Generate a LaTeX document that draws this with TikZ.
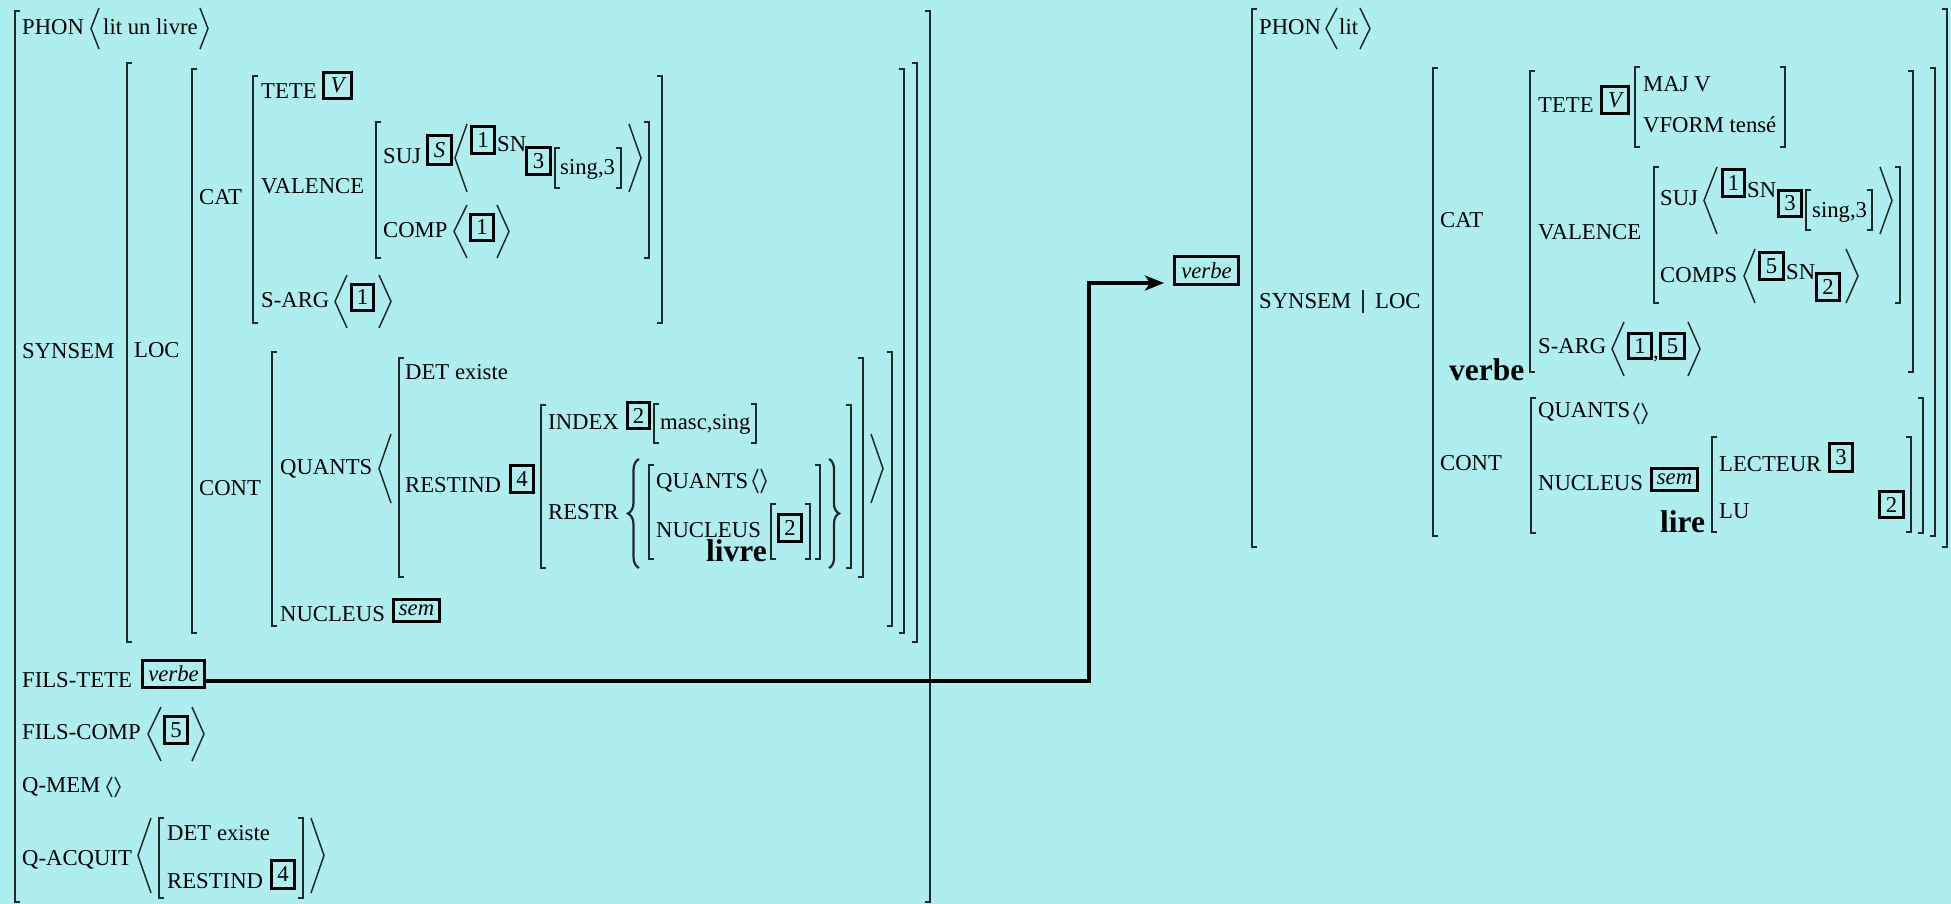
\documentclass[tikz,border=0pt]{standalone}
\usepackage{fontspec}
\setmainfont{Liberation Serif}
\usetikzlibrary{decorations.pathreplacing,arrows.meta}
\definecolor{bg}{HTML}{AFEEEE}
\definecolor{ink}{HTML}{1E2A2A}
\newcommand\sqL[3]{\draw[brk] ({#1+5},#2) -- (#1,#2) -- (#1,#3) -- ({#1+5},#3);}
\newcommand\sqR[3]{\draw[brk] ({#1-5},#2) -- (#1,#2) -- (#1,#3) -- ({#1-5},#3);}
\newcommand\sqP[4]{\sqL{#1}{#3}{#4}\sqR{#2}{#3}{#4}}
\newcommand\anP[6]{\draw[brk] (#2,#5) -- (#1,{(#5+#6)/2}) -- (#2,#6);\draw[brk] (#3,#5) -- (#4,{(#5+#6)/2}) -- (#3,#6);}
\newcommand\tx[4]{\node[txt] (#1) at (#2,#3) {#4};}
\newcommand\bd[4]{\node[big] (#1) at (#2,#3) {#4};}
\newcommand\bx[6]{\node[tag,minimum width={#4-3},minimum height={#5-3}] (#1) at (#2,#3) {#6};}
\begin{document}
\begin{tikzpicture}[x=1pt,y=-1pt,
  brk/.style={draw=ink,line width=1.5pt},
  txt/.style={inner sep=0,anchor=base west,font=\fontsize{22.7}{27}\selectfont},
  big/.style={inner sep=0,anchor=base west,font=\fontsize{31.5}{36}\selectfont\bfseries},
  tag/.style={draw=black,line width=3pt,inner sep=0,font=\fontsize{22.7}{27}\selectfont},
  conn/.style={draw=black,line width=4pt,-{Stealth[length=19pt,width=15pt,inset=5pt]}},
  brace/.style={draw=ink,line width=2.2pt,decorate},
]
\fill[bg] (0,0) rectangle (1951,904);
\useasboundingbox (0,0) rectangle (1951,904);

% ================= LEFT AVM =================
\sqP{15}{930}{11}{902}
\sqP{127}{917}{63}{642}
\sqP{192}{904}{69}{633}
\sqP{253}{662}{76}{323}
\sqP{376}{649}{122}{258}
\sqP{555}{621}{148}{188}
\sqP{272}{892}{352}{626}
\sqP{399}{863}{358}{577}
\sqP{541}{851}{405}{568}
\sqP{654}{756}{404}{443}
\sqP{649}{820}{465}{559}
\sqP{771}{810}{504}{559}
\sqP{159}{303}{818}{898}

\anP{91}{99}{200}{208}{8}{49}
\anP{455}{467}{629}{641}{124}{192}
\anP{454}{467}{497}{509}{205}{258}
\anP{335}{347}{379}{391}{275}{328}
\anP{379}{391}{871}{883}{434}{503}
\anP{753}{758}{761}{766}{469}{493}
\anP{148}{161}{192}{204}{707}{761}
\anP{107}{112}{115}{120}{777}{797}
\anP{138}{151}{311}{324}{818}{893}

\draw[brace,decoration={brace,amplitude=11pt,aspect=0.5}] (639,568) -- (639,459);
\draw[brace,decoration={brace,amplitude=10pt,aspect=0.5}] (829,459) -- (829,568);

\tx{phonL}{22}{35}{PHON}
\tx{litL}{103}{35}{lit un livre}
\tx{synsemL}{22}{358}{SYNSEM}
\tx{locL}{134}{357}{LOC}
\tx{catL}{199}{205}{CAT}
\tx{teteL}{261}{99}{TETE}
\tx{valL}{261}{194}{VALENCE}
\tx{sujL}{383}{164}{SUJ}
\tx{snL}{497}{152}{SN}
\tx{sgL}{560}{175}{sing,3}
\tx{compL}{383}{237}{COMP}
\tx{sargL}{261}{307}{S-ARG}
\tx{contL}{199}{495}{CONT}
\tx{quantsL}{280}{474}{QUANTS}
\tx{detL}{405}{379}{DET existe}
\tx{restindL}{405}{492}{RESTIND}
\tx{indexL}{548}{429}{INDEX}
\tx{mascL}{660}{429}{masc,sing}
\tx{restrL}{548}{519}{RESTR}
\tx{quants2L}{656}{488}{QUANTS}
\tx{nuc2L}{656}{537}{NUCLEUS}
\bd{livreL}{706}{561}{livre}
\tx{nucL}{280}{621}{NUCLEUS}
\tx{filstete}{22}{687}{FILS-TETE}
\tx{filscomp}{22}{739}{FILS-COMP}
\tx{qmem}{22}{792}{Q-MEM}
\tx{qacq}{22}{865}{Q-ACQUIT}
\tx{detQ}{167}{840}{DET existe}
\tx{restindQ}{167}{888}{RESTIND}

\bx{vL}{337.5}{85.5}{31}{29}{\itshape V}
\bx{sL}{439.5}{150}{27}{32}{\itshape S}
\bx{oneA}{483}{140}{26}{30}{1}
\bx{threeA}{538.5}{161}{27}{30}{3}
\bx{oneB}{482}{227.5}{26}{29}{1}
\bx{oneC}{362.5}{297.5}{25}{29}{1}
\bx{fourA}{522}{479}{26}{30}{4}
\bx{twoA}{638.5}{415.5}{25}{29}{2}
\bx{twoB}{790}{527.5}{26}{30}{2}
\bx{semL}{416.5}{610.5}{49}{25}{\itshape sem}
\bx{ftbox}{173.5}{674}{65}{30}{\itshape verbe}
\bx{fiveA}{176}{730}{26}{30}{5}
\bx{fourB}{283}{874.5}{26}{31}{4}

% ================= RIGHT AVM =================
\sqP{1252}{1947}{9}{547}
\sqP{1433}{1935}{68}{536}
\sqP{1530}{1913}{71}{372}
\sqP{1635}{1785}{67}{147}
\sqP{1654}{1900}{167}{303}
\sqP{1806}{1872}{190}{230}
\sqP{1531}{1923}{398}{533}
\sqP{1712}{1911}{437}{532}

\anP{1326}{1337}{1360}{1370}{8}{49}
\anP{1704}{1717}{1880}{1892}{167}{234}
\anP{1744}{1755}{1846}{1858}{249}{303}
\anP{1612}{1624}{1688}{1700}{322}{376}
\anP{1634}{1639}{1642}{1647}{403}{424}

\draw[brk] (1363,290) -- (1363,313);

\tx{phonR}{1259}{35}{PHON}
\tx{litR}{1339}{35}{lit}
\tx{synsemR}{1259}{308}{SYNSEM}
\tx{locR}{1375}{308}{LOC}
\tx{catR}{1440}{227}{CAT}
\tx{teteR}{1538}{113}{TETE}
\tx{majR}{1643}{92}{MAJ V}
\tx{vformR}{1643}{133}{VFORM tensé}
\tx{valR}{1538}{240}{VALENCE}
\tx{sujR}{1660}{206}{SUJ}
\tx{snR}{1747}{197}{SN}
\tx{sgR}{1812}{218}{sing,3}
\tx{compsR}{1660}{282}{COMPS}
\tx{sn2R}{1786}{279}{SN}
\tx{sargR}{1538}{353}{S-ARG}
\tx{commaR}{1653}{358}{,}
\bd{verbeR}{1449}{380}{verbe}
\tx{contR}{1440}{470}{CONT}
\tx{quantsR}{1538}{417}{QUANTS}
\tx{nucR}{1538}{490}{NUCLEUS}
\bd{lireR}{1660}{532}{lire}
\tx{lectR}{1719}{471}{LECTEUR}
\tx{luR}{1719}{518}{LU}

\bx{vbox}{1206.5}{270.5}{67}{31}{\itshape verbe}
\bx{vR}{1615}{100}{30}{30}{\itshape V}
\bx{oneR}{1733.5}{183}{25}{30}{1}
\bx{threeR}{1790}{203.5}{26}{29}{3}
\bx{fiveR}{1771.5}{266}{27}{30}{5}
\bx{twoR}{1828}{287}{26}{30}{2}
\bx{oneS}{1640}{346}{26}{28}{1}
\bx{fiveS}{1672.5}{346}{27}{28}{5}
\bx{semR}{1674.5}{479.5}{49}{25}{\itshape sem}
\bx{threeS}{1841}{457.5}{26}{31}{3}
\bx{twoS}{1891.5}{504.5}{27}{29}{2}

% ================= CONNECTOR =================
\coordinate (bend) at (1089,283);
\coordinate (tip) at (1164,283);
\draw[conn] ([yshift=-7pt]ftbox.east) -| (bend) -- (tip);
\end{tikzpicture}
\end{document}
